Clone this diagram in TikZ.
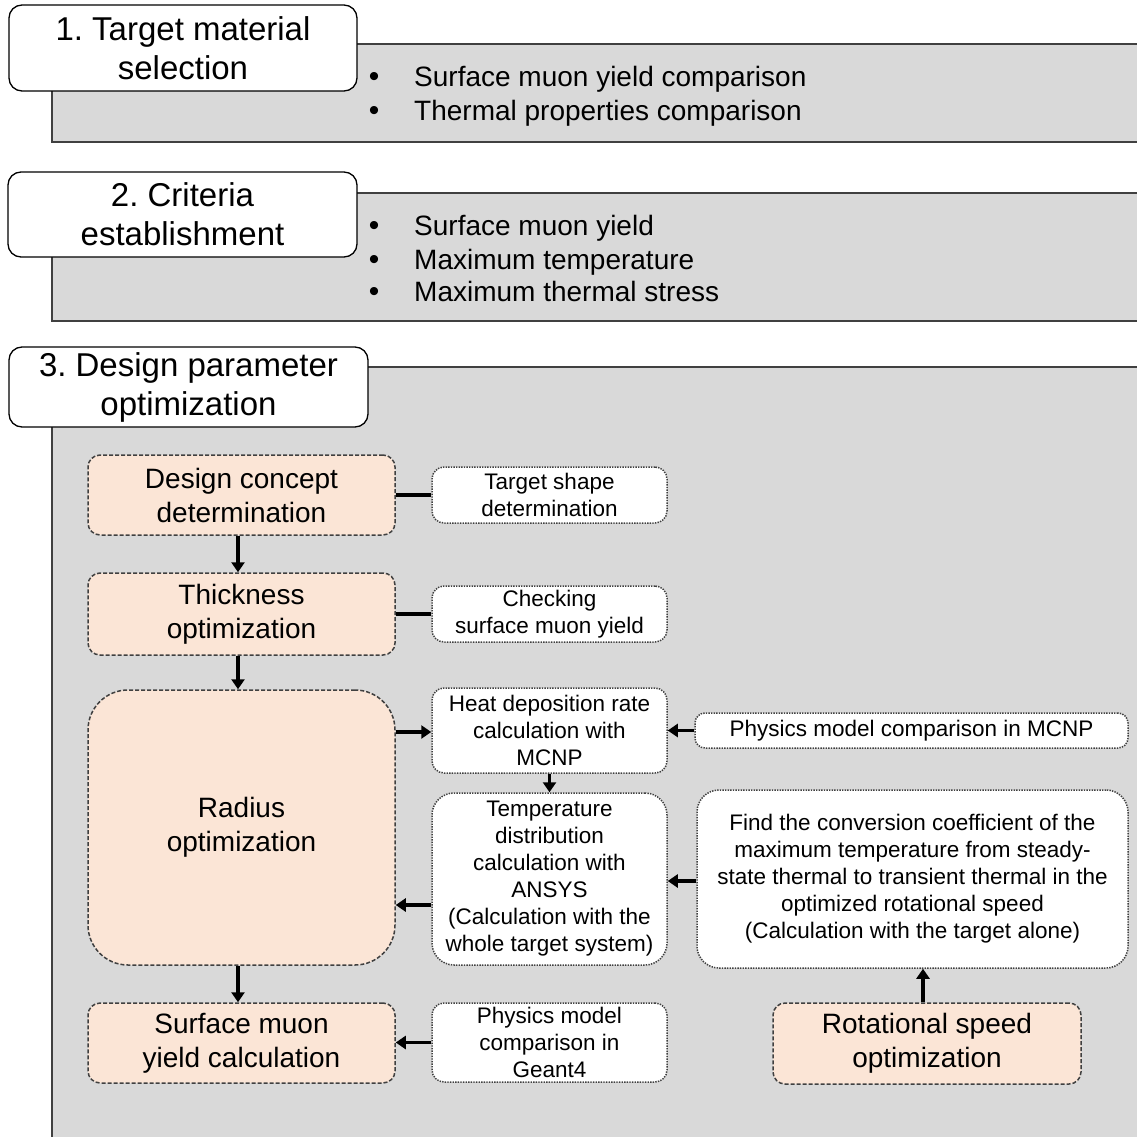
\documentclass[tikz,border=0pt]{standalone}
\usepackage{fontspec}
\setmainfont{Liberation Sans}
\usetikzlibrary{arrows.meta}
\definecolor{panelgray}{HTML}{D9D9D9}
\definecolor{peach}{HTML}{FBE5D6}
\definecolor{edge}{HTML}{404040}
\begin{document}
\begin{tikzpicture}[x=1pt,y=-1pt,
  panelline/.style={draw=edge,line width=1.8pt},
  header/.style={draw=black,line width=1.3pt,fill=white,rounded corners=13pt,align=center,
    font=\fontsize{33}{39}\selectfont,inner sep=0pt},
  mainbox/.style={draw=edge,dash pattern=on 4pt off 2pt,line width=1.5pt,fill=peach,
    rounded corners=12pt,align=center,font=\fontsize{28}{34}\selectfont,inner sep=0pt},
  subbox/.style={draw=edge,dash pattern=on 1.4pt off 1.2pt,line width=1.5pt,fill=white,
    rounded corners=12pt,align=center,font=\fontsize{22.5}{27}\selectfont,inner sep=0pt},
  bul/.style={font=\fontsize{30}{34}\selectfont,inner sep=0pt},
  btxt/.style={anchor=west,font=\fontsize{28}{34}\selectfont,inner sep=0pt,text height=0.75em,text depth=0.25em},
  arr/.style={line width=3.4pt,-{Triangle[length=10pt,width=13pt]}},
  link/.style={line width=4.2pt}
]
\useasboundingbox (0,0) rectangle (1137,1137);
\fill[white] (0,0) rectangle (1137,1137);

% panels
\fill[panelgray] (52,44) rectangle (1137,142);
\draw[panelline] (1137,44) -- (52,44) -- (52,142) -- (1137,142);
\fill[panelgray] (52,193) rectangle (1137,321);
\draw[panelline] (1137,193) -- (52,193) -- (52,321) -- (1137,321);
\fill[panelgray] (52,367) rectangle (1137,1137);
\draw[draw=edge,line width=1.2pt] (1137,367) -- (52,367);
\draw[panelline] (52,367) -- (52,1137);

% headers
\node[header,minimum width=348pt,minimum height=86pt] (h1) at (183,48) {1.\ Target material\\selection};
\node[header,minimum width=349pt,minimum height=85pt] (h2) at (182.5,214.5) {2.\ Criteria\\establishment};
\node[header,minimum width=359pt,minimum height=80pt] (h3) at (188.5,387) {3.\ Design parameter\\optimization};

% bullets panel 1
\node[bul] (b11) at (374,79) {•};
\node[btxt] (t11) at (414,84) {Surface muon yield comparison};
\node[bul] (b12) at (374,113) {•};
\node[btxt] (t12) at (414,118) {Thermal properties comparison};
% bullets panel 2
\node[bul] (b21) at (374,228) {•};
\node[btxt] (t21) at (414,233) {Surface muon yield};
\node[bul] (b22) at (374,262) {•};
\node[btxt] (t22) at (414,267) {Maximum temperature};
\node[bul] (b23) at (374,294) {•};
\node[btxt] (t23) at (414,299) {Maximum thermal stress};

% flowchart boxes
\node[mainbox,minimum width=307pt,minimum height=80pt] (dc) at (241.5,495) {Design concept\\determination};
\node[subbox,minimum width=235pt,minimum height=56pt] (ts) at (549.5,495) {Target shape\\determination};
\node[mainbox,minimum width=307pt,minimum height=82pt] (th) at (241.5,614) {Thickness\\optimization};
\node[subbox,minimum width=235pt,minimum height=56pt] (ck) at (549.5,614) {Checking\\surface muon yield};
\node[mainbox,rounded corners=40pt,minimum width=307pt,minimum height=275pt] (rad) at (241.5,827.5) {Radius\\optimization};
\node[subbox,minimum width=235pt,minimum height=85pt] (heat) at (549.5,730.5) {Heat deposition rate\\calculation with\\MCNP};
\node[subbox,rounded corners=10pt,minimum width=433pt,minimum height=35pt] (pmc) at (911.5,730.5) {Physics model comparison in MCNP};
\node[subbox,rounded corners=22pt,minimum width=235pt,minimum height=172pt] (temp) at (549.5,879) {Temperature\\distribution\\calculation with\\ANSYS\\(Calculation with the\\whole target system)};
\node[subbox,rounded corners=22pt,minimum width=431pt,minimum height=178pt] (find) at (912.5,879) {Find the conversion coefficient of the\\maximum temperature from steady-\\state thermal to transient thermal in the\\optimized rotational speed\\(Calculation with the target alone)};
\node[mainbox,minimum width=308pt,minimum height=81pt] (rot) at (927,1043.5) {Rotational speed\\optimization};
\node[mainbox,minimum width=307pt,minimum height=80pt] (smy) at (241.5,1043) {Surface muon\\yield calculation};
\node[subbox,minimum width=235pt,minimum height=79pt] (g4) at (549.5,1042.5) {Physics model\\comparison in\\Geant4};

% connectors
\draw[link] (dc.east) -- (ts.west);
\draw[link] (th.east) -- (ck.west);
\draw[arr] ([xshift=-3.5pt]dc.south) -- ([xshift=-3.5pt]th.north);
\draw[arr] ([xshift=-3.5pt]th.south) -- ([xshift=-3.5pt]rad.north);
\draw[arr] ([yshift=-1.5pt]rad.east |- heat.west) -- ([yshift=-1.5pt]heat.west);
\draw[arr] (pmc.west) -- (heat.east);
\draw[arr] (heat.south) -- (temp.north);
\draw[arr] ([yshift=-26pt]temp.west) -- ([yshift=-26pt]temp.west -| rad.east);
\draw[arr] ([yshift=-2pt]find.west) -- ([yshift=-2pt]temp.east);
\draw[arr] ([xshift=-4pt]rot.north) -- ([xshift=-4pt]rot.north |- find.south);
\draw[arr] ([xshift=-3.5pt]rad.south) -- ([xshift=-3.5pt]smy.north);
\draw[arr] (g4.west) -- (g4.west -| smy.east);
\end{tikzpicture}
\end{document}
